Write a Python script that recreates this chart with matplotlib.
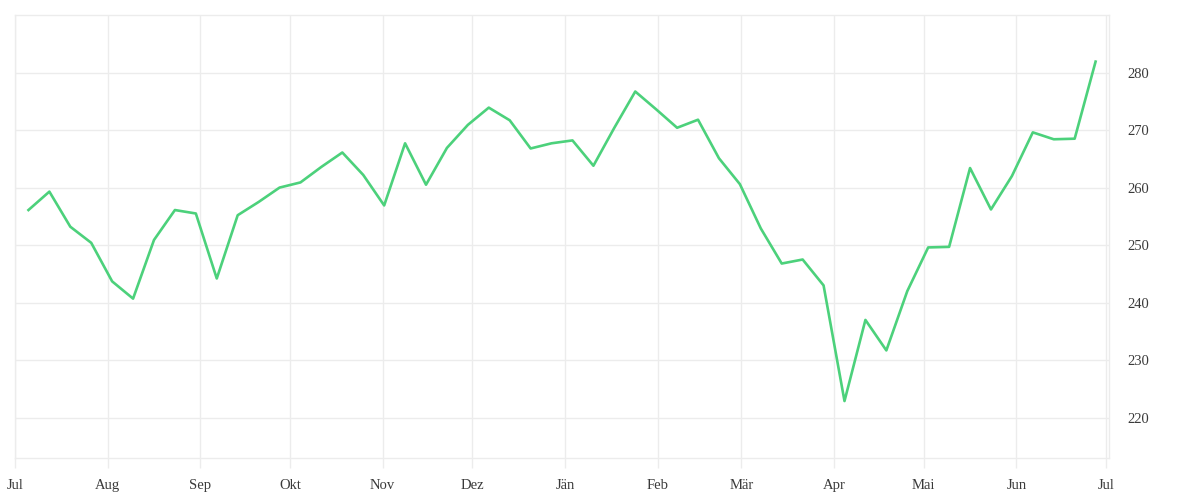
import matplotlib
matplotlib.use("Agg")
import matplotlib.pyplot as plt
import pandas as pd

# weekly closing values, Fridays Jul 2024 - Jun 2025
weeks = pd.date_range("2024-07-05 12:00", periods=52, freq="7D")
values = [
    256.1, 259.3, 253.2, 250.4, 243.7, 240.7, 250.9, 256.1, 255.5, 244.2,
    255.2, 257.5, 260.0, 260.9, 263.6, 266.1, 262.2, 256.9, 267.7, 260.5,
    266.9, 270.9, 273.9, 271.7, 266.8, 267.7, 268.2, 263.8, 270.4, 276.7,
    273.6, 270.4, 271.8, 265.1, 260.6, 252.9, 246.8, 247.5, 243.0, 222.9,
    237.0, 231.7, 242.0, 249.6, 249.7, 263.4, 256.2, 262.0, 269.6, 268.4,
    268.5, 281.9,
]
month_starts = pd.date_range("2024-07-01", "2025-07-01", freq="MS")
month_labels = ["Jul", "Aug", "Sep", "Okt", "Nov", "Dez", "Jän", "Feb",
                "Mär", "Apr", "Mai", "Jun", "Jul"]
y_ticks = [220, 230, 240, 250, 260, 270, 280]

plt.rcParams['font.family'] = ['Liberation Serif', 'DejaVu Serif']

grid_col = "#ececec"
text_col = "#3a3a3a"

fig = plt.figure(figsize=(12, 5), dpi=100)
ax = fig.add_axes([0.0125, 0.084, 0.9117, 0.886])

ax.plot(weeks, values, color="#4cd17b", linewidth=1.9)

ax.set_xlim(pd.Timestamp("2024-07-01"), pd.Timestamp("2025-07-02"))
ax.set_ylim(213, 290)

ax.set_xticks(month_starts)
ax.set_xticklabels(month_labels)
ax.set_yticks(y_ticks)
ax.yaxis.tick_right()

ax.grid(True, color=grid_col, linewidth=1)
ax.set_axisbelow(True)
for s in ax.spines.values():
    s.set_color(grid_col)
    s.set_linewidth(1)

ax.tick_params(axis="x", length=7.5, width=1, color=grid_col, pad=7.5,
               labelsize=10.5, labelcolor=text_col)
ax.tick_params(axis="y", length=0, pad=13, labelsize=10.5, labelcolor=text_col)

fig.savefig("out.png", dpi=100)
